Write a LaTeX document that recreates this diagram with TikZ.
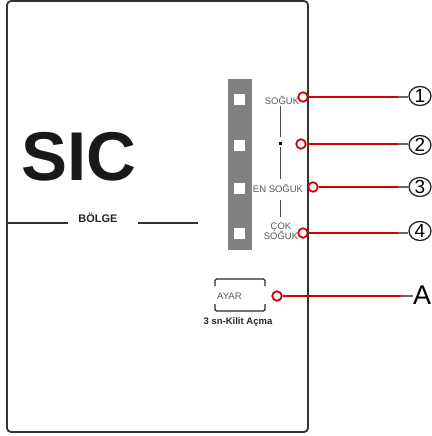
\documentclass[tikz,border=0pt]{standalone}
\usepackage{fontspec}
\usetikzlibrary{shapes.geometric}
\setmainfont{Liberation Sans}
\begin{document}
\begin{tikzpicture}[x=1pt,y=-1pt,
  frame/.style={draw=black!80,line width=1.8pt,rounded corners=4pt},
  lbl/.style={text=black!65,font=\fontsize{9.5}{10}\selectfont,inner sep=0pt,align=center},
  ring/.style={circle,draw=red!85!black,line width=1.8pt,minimum size=9.5pt,inner sep=0pt},
  lead/.style={draw=red!85!black,line width=1.8pt},
  tail/.style={draw=black!60,line width=1.8pt},
  num/.style={ellipse,draw=black!85,line width=1.3pt,minimum width=22pt,minimum height=19pt,inner sep=0pt,font=\fontsize{19}{19}\selectfont},
  guide/.style={draw=black!70,line width=0.8pt}]
\useasboundingbox (0,0) rectangle (431,436);
\draw[frame] (7,1) rectangle (308,432);
% SIC and BÖLGE
\node[font=\bfseries\fontsize{69}{69}\selectfont,text=black!90,inner sep=0pt] (sic) at (79,157) {SIC};
\node[font=\bfseries\fontsize{11}{11}\selectfont,text=black!85,inner sep=0pt] (bolge) at (98,218) {BÖLGE};
\coordinate (bl1) at (7,223); \coordinate (bl2) at (68,223);
\coordinate (br1) at (138,223); \coordinate (br2) at (198,223);
\draw[black!80,line width=1.2pt] (bl1) -- (bl2) (br1) -- (br2);
% gray strip
\fill[black!50] (228,79) rectangle (252,250);
\foreach \y/\n in {99/s1,145/s2,188/s3,233/s4}
  \node[fill=white,minimum size=11pt,inner sep=0pt] (\n) at (239.5,\y) {};
% labels
\node[lbl] (t1) at (282,100) {SOĞUK};
\node[lbl] (t3) at (278,188) {EN SOĞUK};
\node[lbl,align=center] (t4) at (281,231) {ÇOK\\[-1.5pt]SOĞUK};
\node[fill=black,minimum size=3pt,inner sep=0pt] (dot) at (280,143) {};
\coordinate (g1) at (280,106); \coordinate (g2) at (280,137);
\coordinate (g3) at (280,147); \coordinate (g4) at (280,179);
\coordinate (g5) at (280,200); \coordinate (g6) at (280,217);
\draw[guide] (g1) -- (g2) (g3) -- (g4) (g5) -- (g6);
% rings and callouts
\node[ring] (r1) at (303,97) {};
\node[ring] (r2) at (301,144) {};
\node[ring] (r3) at (313,187) {};
\node[ring] (r4) at (303,233) {};
\node[num] (n1) at (420,96) {1};
\node[num] (n2) at (420,145) {2};
\node[num] (n3) at (420,187) {3};
\node[num] (n4) at (420,231) {4};
\foreach \i in {1,2,3,4}{
  \draw[lead] (r\i) -- ([xshift=-10pt]n\i.west |- r\i);
  \draw[tail] ([xshift=-10pt]n\i.west |- r\i) -- (n\i.west |- r\i);
}
% AYAR
\draw[black!85,line width=1.3pt,rounded corners=1.5pt] (215,286) -- (215,279) -- (265,279) -- (265,286);
\draw[black!85,line width=1.3pt,rounded corners=1.5pt] (215,304) -- (215,311) -- (265,311) -- (265,304);
\node[lbl,anchor=west] (ayar) at (217,296) {AYAR};
\node[font=\bfseries\fontsize{9.5}{10}\selectfont,inner sep=0pt,text=black!85] (kilit) at (238,322) {3 sn-Kilit Açma};
\node[ring] (ra) at (277,296) {};
\node[font=\fontsize{27}{27}\selectfont,inner sep=0pt,anchor=west] (a) at (413,295) {A};
\draw[lead] (ra) -- ([xshift=-12pt]a.west |- ra);
\draw[tail] ([xshift=-12pt]a.west |- ra) -- (a.west |- ra);
\end{tikzpicture}
\end{document}
